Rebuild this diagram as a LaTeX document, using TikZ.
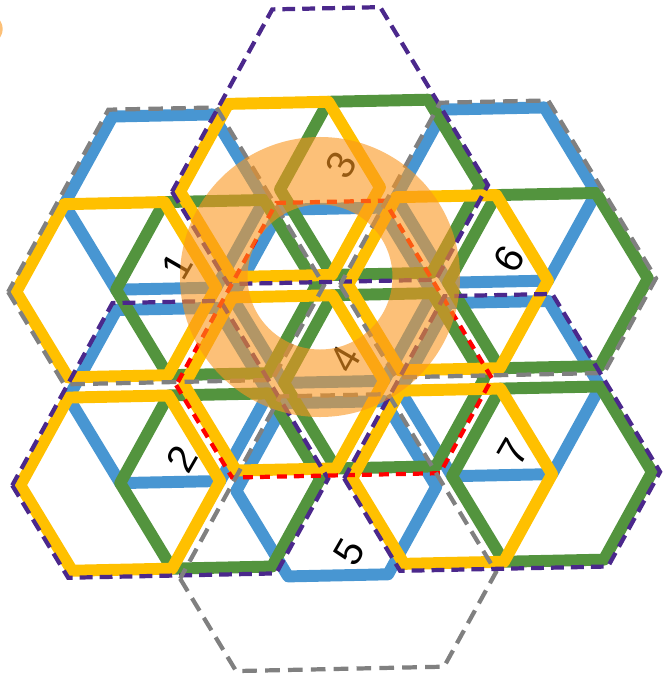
\documentclass[tikz,border=0pt]{standalone}
\usepackage{fontspec}
\setsansfont{Liberation Sans}
\usetikzlibrary{calc}
\definecolor{cellblue}{RGB}{72,150,210}
\definecolor{cellgreen}{RGB}{83,148,62}
\definecolor{cellyellow}{RGB}{255,192,0}
\definecolor{edgegray}{RGB}{128,128,128}
\definecolor{edgepurple}{RGB}{75,40,140}
\definecolor{edgered}{RGB}{255,0,0}
\definecolor{ringorange}{RGB}{250,150,30}
\tikzset{
  cell/.style={draw=#1, line width=10.2pt, line join=round},
  outline/.style={draw=#1, line width=3.6pt},
  grayedge/.style={outline=edgegray, dash pattern=on 12.5pt off 7pt},
  purpleedge/.style={outline=edgepurple, dash pattern=on 11pt off 6pt},
  rededge/.style={outline=edgered, dash pattern=on 8.5pt off 6pt},
  ringfill/.style={fill=ringorange, fill opacity=0.6},
  clusterlabel/.style={font=\sffamily\fontsize{34}{34}\selectfont, text=black,
    rotate=60, inner sep=0pt}
}

\begin{document}
\begin{tikzpicture}[x=0.03cm, y=-0.03cm]
  \useasboundingbox (0,0) rectangle (667,678);
  \clip (0,0) rectangle (667,678);

  % cluster centres (whole pattern turned by 1.2 degrees)
  \coordinate (c1) at (165.5,259.8);
  \coordinate (c2) at (169.6,453.2);
  \coordinate (c3) at (329.4,159.5);
  \coordinate (c4) at (333.5,353.0);
  \coordinate (c5) at (337.5,546.5);
  \coordinate (c6) at (497.4,252.8);
  \coordinate (c7) at (501.5,446.3);

  % three cells per cluster
  \foreach \col/\x/\y/\list in {cellblue/0/-57.74/{1,2,4,5,6,7},
      cellgreen/50/28.87/{1,2,3,4,6,7}, cellyellow/-50/28.87/{1,2,3,4,6,7}}
    \foreach \n in \list
      \draw[cell=\col, shift={(c\n)}, rotate=1.2] (\x,\y) ++(0:100)
        -- ++(120:100) -- ++(180:100) -- ++(240:100) -- ++(300:100) -- ++(0:100) -- cycle;

  % cluster borders
  \foreach \n/\sty in {1/grayedge, 2/purpleedge, 3/purpleedge, 4/rededge,
      5/grayedge, 6/grayedge, 7/purpleedge}
    \draw[\sty, shift={(c\n)}, rotate=1.2] (-158,28.87) -- (-104,122.4) -- (104,122.4)
      -- (158,28.87) -- (54,-151.26) -- (-54,-151.26) -- cycle;

  \foreach \n in {1,...,7}
    \node[clusterlabel] (tag\n) at ($(c\n)+(12,6)$) {\n};

  % highlighted ring
  \fill[ringfill, even odd rule] (320,277) circle (4.2cm) (320,277) circle (2.175cm);
  \fill[ringfill] (-12,29) circle (0.44cm);
\end{tikzpicture}
\end{document}
